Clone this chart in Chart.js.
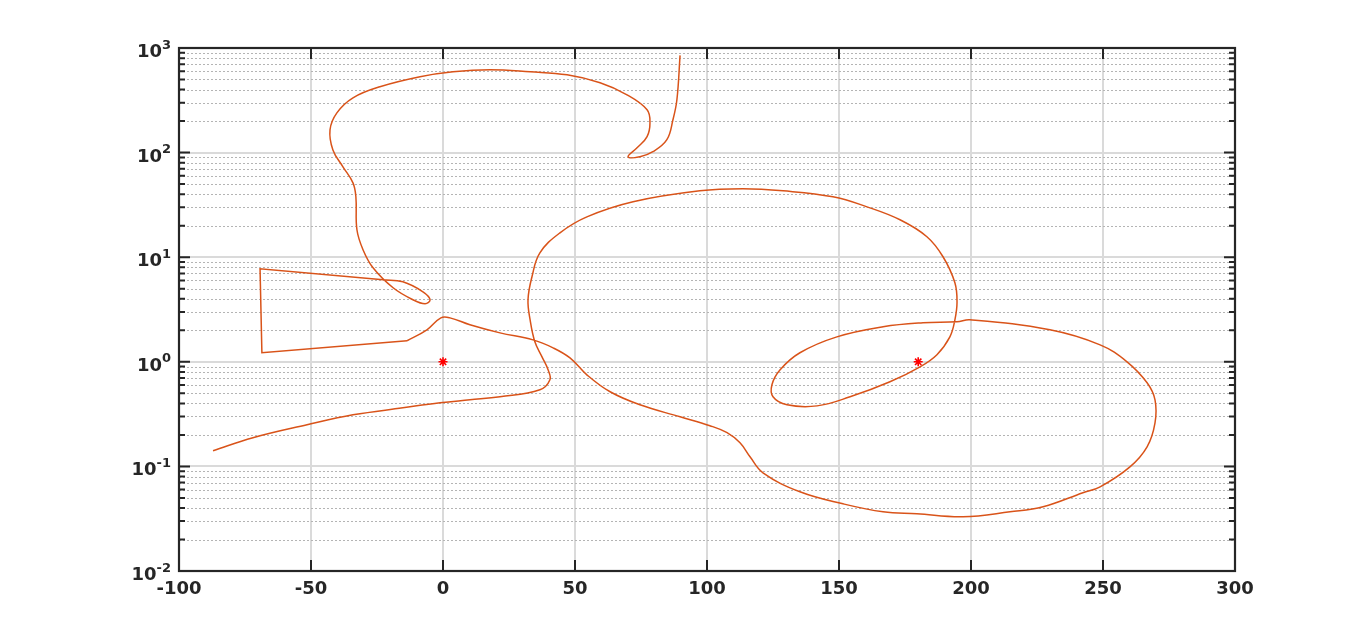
<!DOCTYPE html>
<html>
<head>
<meta charset="utf-8">
<script src="https://cdn.jsdelivr.net/npm/chart.js@4.4.1/dist/chart.umd.min.js"></script>
<style>
  html, body { margin: 0; padding: 0; background: #ffffff; }
  #wrap { width: 1366px; height: 642px; position: relative; }
</style>
</head>
<body>
<div id="wrap"><canvas id="c"></canvas></div>
<script>
// ---- data ----
const curveX = [-87.1,-72.0,-51.5,-34.1,-15.2,-1.1,10.2,21.6,36.7,40.5,
  39.8,37.5,34.8,33.0,32.2,33.7,36.7,44.3,54.5,72.0,
  97.3,113.6,128.8,147.7,160.6,173.1,183.3,189.4,193.9,194.7,
  193.9,192.0,187.1,180.7,169.3,154.2,141.7,130.3,125.0,124.6,
  127.7,135.2,149.2,166.7,181.8,194.7,199.6,229.9,248.9,259.1,
  266.7,269.7,269.7,266.7,260.2,248.9,242.4,227.3,214.8,197.0,
  179.5,166.7,151.5,135.2,121.2,116.3,112.5,107.6,101.1,89.8,
  74.6,63.3,54.5,48.1,41.7,34.1,21.6,10.2,2.65,-0.8,
  -6.1,-13.6,-68.6,-69.3,-22.7,-15.2,-7.6,-4.9,-6.8,-11.4,
  -18.9,-26.5,-30.3,-32.6,-33.0,-34.1,-37.9,-41.7,-42.8,-40.2,
  -34.1,-23.9,-8.7,3.8,17.8,33.0,47.0,59.5,69.7,77.3,
  78.4,77.3,73.5,70.1,74.6,79.5,84.8,87.1,88.6,89.8];
const curveY = [0.141,0.188,0.250,0.311,0.363,0.406,0.433,0.463,0.540,0.673,
  0.839,1.116,1.553,2.52,3.92,6.50,11.0,17.1,24.3,33.9,
  43.1,45.1,43.1,37.8,30.3,22.8,15.7,10.1,5.69,3.66,
  2.52,1.73,1.17,0.896,0.644,0.463,0.379,0.388,0.463,0.603,
  0.839,1.22,1.73,2.16,2.36,2.41,2.52,2.02,1.45,1.0,
  0.630,0.433,0.261,0.154,0.0991,0.0638,0.056,0.0411,0.0368,0.033,
  0.0352,0.0368,0.0439,0.0572,0.0869,0.1236,0.168,0.210,0.245,0.298,
  0.388,0.517,0.751,1.09,1.36,1.62,1.89,2.26,2.63,2.63,
  2.02,1.59,1.22,7.75,6.08,5.82,4.67,3.92,3.59,3.92,
  5.10,7.92,11.8,18.3,37.8,51.4,73.1,106,165,240,
  334,426,531,592,619,592,554,465,357,257,
  193,142,111,91.2,91.2,102,133,206,320,850];
// indices where the trajectory has straight (corner) segments
const straightStart = 81;
const straightEnd = 84;

const markerX = [0, 180];
const markerY = [1, 1];

const xTickValues = [-100, -50, 0, 50, 100, 150, 200, 250, 300];
const yMajorTicks = [0.01, 0.1, 1, 10, 100, 1000];
const yTickBase = '10';
const yTickExponents = ['-2', '-1', '0', '1', '2', '3'];
const yMinorFactors = [2, 3, 4, 5, 6, 7, 8, 9];

// ---- styles ----
const AXIS = '#262626';
const LINE = '#D95319';
const GRID = '#dadada';
const MINOR = '#b4b4b4';
const FONT = { family: 'DejaVu Sans', size: 18, weight: 'bold' };

function isMajorY(v) { return yMajorTicks.some(m => Math.abs(v / m - 1) < 1e-6); }
const yAllTicks = [];
yMajorTicks.forEach((m, i) => {
  yAllTicks.push(m);
  if (i < yMajorTicks.length - 1) yMinorFactors.forEach(f => yAllTicks.push(m * f));
});

function pts(from, to) {
  const out = [];
  for (let i = from; i <= to; i++) out.push({ x: curveX[i], y: curveY[i] });
  return out;
}

const axisPlugin = {
  id: 'matlabAxes',
  beforeDatasetsDraw(chart) {
    const { ctx, chartArea: a } = chart;
    const ys = chart.scales.y;
    ctx.save();
    ctx.strokeStyle = MINOR;
    ctx.lineWidth = 1;
    ctx.setLineDash([2, 2]);
    yAllTicks.forEach(v => {
      if (isMajorY(v)) return;
      const py = Math.round(ys.getPixelForValue(v)) + 0.5;
      ctx.beginPath();
      ctx.moveTo(a.left, py);
      ctx.lineTo(a.right, py);
      ctx.stroke();
    });
    ctx.restore();
  },
  afterDatasetsDraw(chart) {
    const { ctx, chartArea: a } = chart;
    const xs = chart.scales.x, ys = chart.scales.y;
    ctx.save();
    ctx.strokeStyle = AXIS;
    ctx.setLineDash([]);
    ctx.lineWidth = 2;
    xTickValues.forEach(v => {
      const px = xs.getPixelForValue(v);
      ctx.beginPath();
      ctx.moveTo(px, a.bottom); ctx.lineTo(px, a.bottom - 11);
      ctx.moveTo(px, a.top); ctx.lineTo(px, a.top + 11);
      ctx.stroke();
    });
    yAllTicks.forEach(v => {
      const py = ys.getPixelForValue(v);
      const len = isMajorY(v) ? 11 : 6;
      ctx.beginPath();
      ctx.moveTo(a.left, py); ctx.lineTo(a.left + len, py);
      ctx.moveTo(a.right, py); ctx.lineTo(a.right - len, py);
      ctx.stroke();
    });
    ctx.lineWidth = 2.2;
    ctx.strokeRect(a.left, a.top, a.right - a.left, a.bottom - a.top);

    // y tick labels: "10" with superscript exponent
    ctx.fillStyle = AXIS;
    ctx.textBaseline = 'alphabetic';
    ctx.textAlign = 'left';
    const rightEdge = a.left - 8;
    yMajorTicks.forEach((v, i) => {
      const py = ys.getPixelForValue(v);
      ctx.font = 'bold 13px "DejaVu Sans"';
      const ew = ctx.measureText(yTickExponents[i]).width;
      ctx.font = 'bold 18px "DejaVu Sans"';
      const bw = ctx.measureText(yTickBase).width;
      const x0 = rightEdge - ew - bw;
      ctx.fillText(yTickBase, x0, py + 9);
      ctx.font = 'bold 13px "DejaVu Sans"';
      ctx.fillText(yTickExponents[i], x0 + bw, py + 0.5);
    });
    ctx.restore();
  }
};

const lineStyle = {
  showLine: true,
  borderColor: LINE,
  borderWidth: 1.5,
  pointRadius: 0,
  pointHoverRadius: 0,
  fill: false
};

new Chart(document.getElementById('c'), {
  type: 'scatter',
  data: {
    datasets: [
      Object.assign({ label: 'trajectory', data: pts(0, straightStart), tension: 0.4 }, lineStyle),
      Object.assign({ label: 'trajectory-straight', data: pts(straightStart, straightEnd), tension: 0 }, lineStyle),
      Object.assign({ label: 'trajectory-end', data: pts(straightEnd, curveX.length - 1), tension: 0.4 }, lineStyle),
      {
        label: 'points',
        data: markerX.map((x, i) => ({ x: x, y: markerY[i] })),
        showLine: false,
        pointStyle: 'star',
        pointRadius: 4.5,
        borderColor: '#ff0000',
        backgroundColor: '#ff0000',
        borderWidth: 1.6
      }
    ]
  },
  options: {
    responsive: true,
    maintainAspectRatio: false,
    animation: false,
    events: [],
    layout: { padding: { left: 0, right: 131, top: 48, bottom: 0 } },
    plugins: { legend: { display: false }, tooltip: { enabled: false } },
    scales: {
      x: {
        type: 'linear',
        min: -100, max: 300,
        afterBuildTicks(scale) { scale.ticks = xTickValues.map(v => ({ value: v })); },
        afterFit(scale) { scale.height = 71; },
        border: { display: false },
        grid: {
          color: ctx => (ctx.tick && (ctx.tick.value === -100 || ctx.tick.value === 300)) ? 'rgba(0,0,0,0)' : GRID,
          lineWidth: 2,
          drawTicks: false
        },
        ticks: {
          color: AXIS, font: FONT, padding: 8, maxRotation: 0, autoSkip: false,
          callback: v => String(v)
        }
      },
      y: {
        type: 'logarithmic',
        min: 0.01, max: 1000,
        afterBuildTicks(scale) { scale.ticks = yMajorTicks.map(v => ({ value: v, major: true })); },
        afterFit(scale) { scale.width = 179; },
        border: { display: false },
        grid: {
          color: ctx => (ctx.tick && (ctx.tick.value === 0.01 || ctx.tick.value === 1000)) ? 'rgba(0,0,0,0)' : GRID,
          lineWidth: 2,
          drawTicks: false
        },
        ticks: { display: false }
      }
    }
  },
  plugins: [axisPlugin]
});
</script>
</body>
</html>
